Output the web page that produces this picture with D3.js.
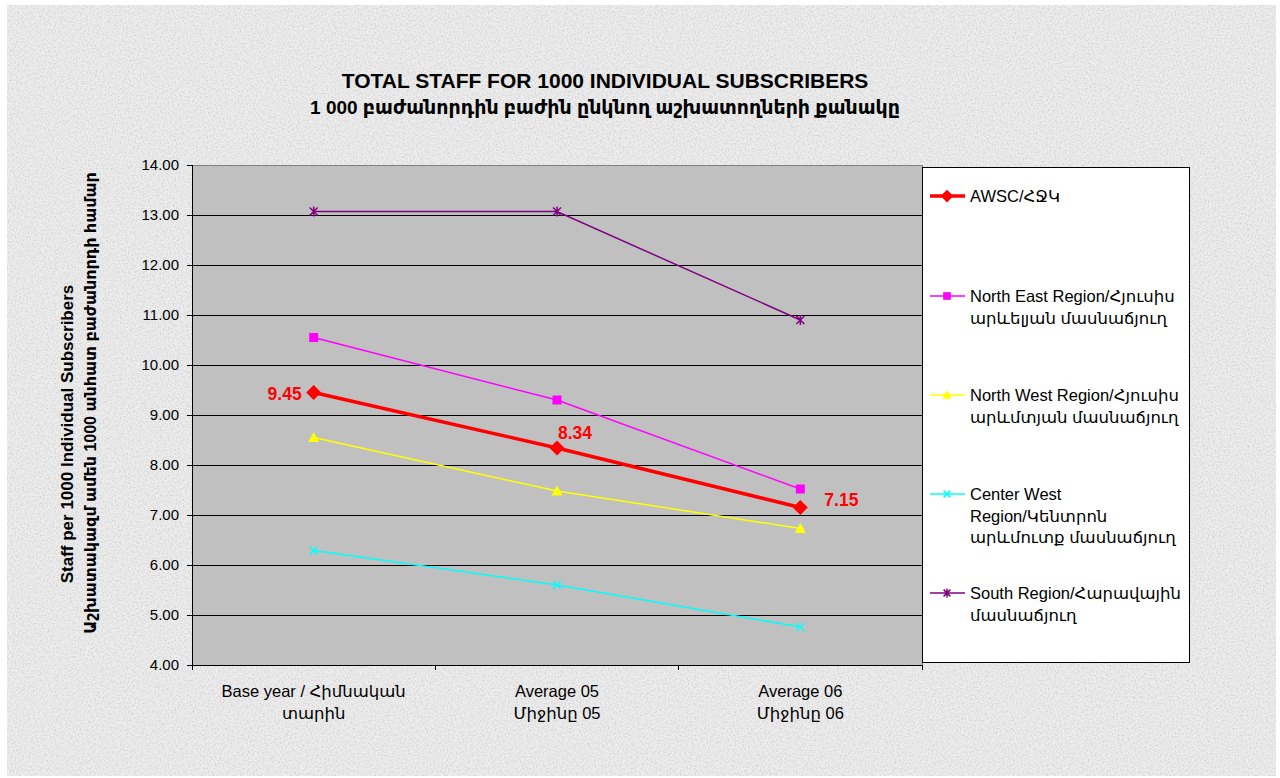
<!DOCTYPE html>
<html><head><meta charset="utf-8">
<script src="https://cdn.jsdelivr.net/npm/d3@7"></script>
<style>html,body{margin:0;padding:0;background:#fff;}svg{display:block;}</style>
</head><body>
<svg id="chart" width="1280" height="778"></svg>
<script>
const categories = [["Base year / Հիմնական", "տարին"], ["Average 05", "Միջինը 05"], ["Average 06", "Միջինը 06"]];
const seriesNames = [
  ["AWSC/ՀՋԿ"],
  ["North East Region/Հյուսիս", "արևելյան մասնաճյուղ"],
  ["North West Region/Հյուսիս", "արևմտյան մասնաճյուղ"],
  ["Center West", "Region/Կենտրոն", "արևմուտք մասնաճյուղ"],
  ["South Region/Հարավային", "մասնաճյուղ"]
];
const awsc = [9.45, 8.34, 7.15];
const northEast = [10.55, 9.30, 7.52];
const northWest = [8.55, 7.48, 6.73];
const centerWest = [6.29, 5.60, 4.76];
const south = [13.07, 13.07, 10.90];
const yTicks = [4, 5, 6, 7, 8, 9, 10, 11, 12, 13, 14];
const titleLines = ["TOTAL STAFF FOR 1000 INDIVIDUAL SUBSCRIBERS", "1 000 բաժանորդին բաժին ընկնող աշխատողների քանակը"];
const yLabelLines = ["Staff per 1000 Individual Subscribers", "Աշխատակազմ ամեն 1000 անհատ բաժանորդի համար"];

const series = [
  {values: awsc, color: "#ff0000", width: 3.5, marker: "diamond", labels: true},
  {values: northEast, color: "#ff00ff", width: 1.5, marker: "square"},
  {values: northWest, color: "#ffff00", width: 1.5, marker: "triangle"},
  {values: centerWest, color: "#00ffff", width: 1.5, marker: "x"},
  {values: south, color: "#800080", width: 1.5, marker: "star"}
];

const FONT = "'Liberation Sans', Arial, 'DejaVu Sans', sans-serif";
const svg = d3.select("#chart");
const defs = svg.append("defs");
const f = defs.append("filter").attr("id","noise").attr("x",0).attr("y",0).attr("width","100%").attr("height","100%");
f.append("feTurbulence").attr("type","fractalNoise").attr("baseFrequency",0.6).attr("numOctaves",2).attr("seed",3).attr("result","t");
f.append("feColorMatrix").attr("in","t").attr("type","matrix")
  .attr("values","0 0 0 0 0.6  0 0 0 0 0.6  0 0 0 0 0.6  0 0 0 -2.2 1.3");

svg.append("rect").attr("x",7).attr("y",5).attr("width",1269).attr("height",771).attr("fill","#ededed");
svg.append("rect").attr("x",7).attr("y",5).attr("width",1269).attr("height",771).attr("filter","url(#noise)").attr("opacity",0.8);

const plot = {left: 192, top: 165, right: 922, bottom: 665};
const x = d3.scaleBand().domain(d3.range(categories.length)).range([plot.left, plot.right]);
const xc = i => x(i) + x.bandwidth()/2;
const y = d3.scaleLinear().domain([4, 14]).range([plot.bottom, plot.top]);

svg.append("rect").attr("x",plot.left).attr("y",plot.top).attr("width",plot.right-plot.left).attr("height",plot.bottom-plot.top)
  .attr("fill","#c0c0c0");

svg.append("g").selectAll("line").data(yTicks.slice(1)).join("line")
  .attr("x1",plot.left).attr("x2",plot.right).attr("y1",d=>y(d)).attr("y2",d=>y(d))
  .attr("stroke","#000").attr("stroke-width",1).attr("shape-rendering","crispEdges");

svg.append("rect").attr("x",plot.left).attr("y",plot.top).attr("width",plot.right-plot.left).attr("height",plot.bottom-plot.top)
  .attr("fill","none").attr("stroke","#808080").attr("stroke-width",1).attr("shape-rendering","crispEdges");

const yAxis = d3.axisLeft(y).tickValues(yTicks).tickFormat(d3.format(".2f")).tickSize(5).tickPadding(8);
const gy = svg.append("g").attr("transform",`translate(${plot.left},0)`).call(yAxis);
gy.select(".domain").attr("stroke","#000").attr("shape-rendering","crispEdges");
gy.selectAll(".tick line").attr("stroke","#000").attr("shape-rendering","crispEdges");
gy.selectAll("text").attr("font-family",FONT).attr("font-size",15).attr("fill","#000");

const gx = svg.append("g").attr("transform",`translate(0,${plot.bottom})`);
gx.append("line").attr("x1",plot.left).attr("x2",plot.right).attr("stroke","#000").attr("shape-rendering","crispEdges");
gx.selectAll("line.tk").data(d3.range(categories.length+1)).join("line").attr("class","tk")
  .attr("x1",i=> i<categories.length ? x(i) : plot.right).attr("x2",i=> i<categories.length ? x(i) : plot.right)
  .attr("y1",0).attr("y2",5).attr("stroke","#000").attr("shape-rendering","crispEdges");
const xl = gx.selectAll("text").data(categories).join("text")
  .attr("x",(d,i)=>xc(i)).attr("y",32).attr("text-anchor","middle")
  .attr("font-family",FONT).attr("font-size",16.5).attr("fill","#000");
xl.selectAll("tspan").data(d=>d).join("tspan").attr("x",function(){return this.parentNode.getAttribute("x");})
  .attr("dy",(d,i)=> i===0?0:22).text(d=>d);

// title
const titleSizes = [21, 19];
const titleY = [88, 114];
svg.append("g").selectAll("text").data(titleLines).join("text")
  .attr("x",605).attr("y",(d,i)=>titleY[i]).attr("text-anchor","middle").attr("font-family",FONT)
  .attr("font-weight","bold").attr("font-size",(d,i)=>titleSizes[i]).attr("fill","#000").text(d=>d);

// y label
const yLabX = [73, 96];
const yLabC = [434, 403];
svg.append("g").selectAll("text").data(yLabelLines).join("text")
  .attr("transform",(d,i)=>`translate(${yLabX[i]},${yLabC[i]}) rotate(-90)`).attr("text-anchor","middle")
  .attr("font-family",FONT).attr("font-weight","bold").attr("font-size",(d,i)=>i?16:17).attr("fill","#000").text(d=>d);

function marker(g, type, color, cx, cy, scale) {
  const s = scale || 1;
  if (type === "diamond") {
    const r = 7.5*s;
    g.append("path").attr("d",`M${cx},${cy-r}L${cx+r},${cy}L${cx},${cy+r}L${cx-r},${cy}Z`).attr("fill",color);
  } else if (type === "square") {
    const r = 4.5*s;
    g.append("rect").attr("x",cx-r).attr("y",cy-r).attr("width",2*r).attr("height",2*r).attr("fill",color);
  } else if (type === "triangle") {
    const r = 5.5*s;
    g.append("path").attr("d",`M${cx},${cy-r}L${cx+r},${cy+r*0.8}L${cx-r},${cy+r*0.8}Z`).attr("fill",color);
  } else if (type === "x") {
    const r = 4*s;
    g.append("path").attr("d",`M${cx-r},${cy-r}L${cx+r},${cy+r}M${cx-r},${cy+r}L${cx+r},${cy-r}`).attr("stroke",color).attr("stroke-width",1.5);
  } else if (type === "star") {
    const r = 4*s;
    g.append("path").attr("d",`M${cx-r},${cy-r}L${cx+r},${cy+r}M${cx-r},${cy+r}L${cx+r},${cy-r}M${cx},${cy-r-1}L${cx},${cy+r+1}`).attr("stroke",color).attr("stroke-width",1.5);
  }
}

const line = d3.line().x((d,i)=>xc(i)).y(d=>y(d));
const drawOrder = [4,1,2,3,0];
drawOrder.forEach(k => {
  const s = series[k];
  const g = svg.append("g");
  g.append("path").datum(s.values).attr("d",line).attr("fill","none").attr("stroke",s.color).attr("stroke-width",s.width);
  s.values.forEach((v,i)=> marker(g, s.marker, s.color, xc(i), y(v)));
});

const labelOffsets = [{dx:-12, dy:7, anchor:"end"}, {dx:1, dy:-9, anchor:"start"}, {dx:24, dy:-2, anchor:"start"}];
svg.append("g").selectAll("text").data(awsc).join("text")
  .attr("x",(d,i)=>xc(i)+labelOffsets[i].dx).attr("y",(d,i)=>y(d)+labelOffsets[i].dy)
  .attr("text-anchor",(d,i)=>labelOffsets[i].anchor)
  .attr("font-family",FONT).attr("font-weight","bold").attr("font-size",17.5).attr("fill","#ff0000")
  .text(d=>d3.format(".2f")(d));

const lg = svg.append("g");
lg.append("rect").attr("x",922).attr("y",167).attr("width",267).attr("height",495).attr("fill","#fff")
  .attr("stroke","#000").attr("stroke-width",1).attr("shape-rendering","crispEdges");
const legendY = [196, 296, 395, 494, 593];
series.forEach((s,k)=>{
  const ly = legendY[k];
  lg.append("line").attr("x1",930).attr("x2",965).attr("y1",ly).attr("y2",ly).attr("stroke",s.color).attr("stroke-width",s.width);
  marker(lg, s.marker, s.color, 947, ly, 0.85);
  lg.append("text").attr("x",970).attr("y",ly+6).attr("font-family",FONT).attr("font-size",16.5).attr("fill","#000")
    .selectAll("tspan").data(seriesNames[k]).join("tspan").attr("x",970).attr("dy",(d,i)=>i?21.5:0).text(d=>d);
});
</script>
</body></html>
